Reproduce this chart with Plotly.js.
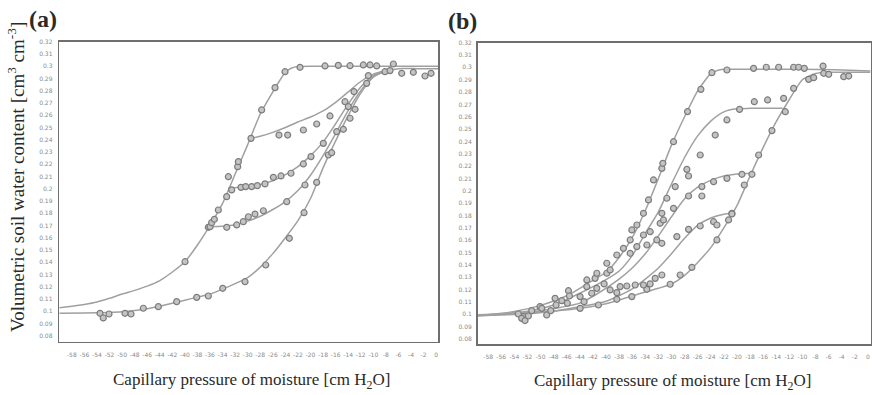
<!DOCTYPE html>
<html><head><meta charset="utf-8">
<script src="https://cdn.plot.ly/plotly-3.0.1.min.js"></script>
<style>html,body{margin:0;padding:0;background:#fff}#chart{width:872px;height:395px}</style>
</head><body><div id="chart"></div>
<script>
// ---------- tick labels ----------
const xTickVals = [-58,-56,-54,-52,-50,-48,-46,-44,-42,-40,-38,-36,-34,-32,-30,-28,-26,-24,-22,-20,-18,-16,-14,-12,-10,-8,-6,-4,-2,0];
const xTickText = xTickVals.map(v => String(v));
const yTickVals = [0.32,0.31,0.30,0.29,0.28,0.27,0.26,0.25,0.24,0.23,0.22,0.21,0.20,0.19,0.18,0.17,0.16,0.15,0.14,0.13,0.12,0.11,0.10,0.09,0.08];
const yTickText = ["0.32","0.31","0.3","0.29","0.28","0.27","0.26","0.25","0.24","0.23","0.22","0.21","0.2","0.19","0.18","0.17","0.16","0.15","0.14","0.13","0.12","0.11","0.1","0.09","0.08"];

// ---------- panel (a) fitted curves ----------
const aMainUpperX = [-60,-58,-56,-54,-52,-50,-48,-46,-44,-42,-40,-38,-36,-34,-32,-30,-28,-26,-25,-24,-23,-22,-20,-16,-10,-4,0.3];
const aMainUpperY = [0.1028,0.1040,0.1055,0.1075,0.1105,0.1140,0.1170,0.1205,0.1250,0.1320,0.1404,0.1540,0.1700,0.1880,0.2120,0.2360,0.2610,0.2790,0.2875,0.2950,0.2985,0.2997,0.3,0.3,0.3,0.3,0.3];
const aMainLowerX = [-60,-56,-52,-50,-48,-46,-44,-42,-40,-38,-36,-34,-32,-30,-28,-26,-24,-22,-20,-18,-16,-14,-12,-10,-8,-6,-3,0.3];
const aMainLowerY = [0.0983,0.0985,0.0990,0.0995,0.1005,0.1020,0.1040,0.1065,0.1090,0.1115,0.1140,0.1180,0.1225,0.1275,0.1360,0.1470,0.1600,0.1740,0.1920,0.2170,0.2390,0.2597,0.2780,0.2910,0.2960,0.2980,0.2980,0.2980];
const aScan1X = [-29.4,-28,-26,-24,-22,-20,-18,-16,-14,-12,-10,-8];
const aScan1Y = [0.2411,0.2428,0.2460,0.2500,0.2545,0.2585,0.2635,0.2705,0.2790,0.2875,0.2935,0.2965];
const aScan2X = [-33.1,-32,-30,-28,-26,-24,-22,-20,-18,-16,-14,-12,-10,-8];
const aScan2Y = [0.2005,0.2008,0.2015,0.2035,0.2065,0.2115,0.2180,0.2270,0.2380,0.2530,0.2690,0.2830,0.2925,0.2965];
const aScan3X = [-36.3,-34,-32,-30,-28,-26,-24,-22,-20,-18,-16,-14,-12,-10,-8];
const aScan3Y = [0.1690,0.1693,0.1705,0.1735,0.1775,0.1830,0.1895,0.1985,0.2110,0.2270,0.2450,0.2640,0.2800,0.2915,0.2960];

// ---------- panel (a) measured points ----------
const aPtsUpperX = [-39.98,-36.27,-36.0,-35.74,-35.31,-34.68,-33.35,-33.08,-31.6,-31.49,-29.48,-27.78,-25.65,-24.06,-21.67,-17.69,-15.57,-13.71,-11.59,-10.52,-9.46,-6.81];
const aPtsUpperY = [0.1404,0.1685,0.169,0.1723,0.175,0.1826,0.1935,0.2098,0.218,0.2221,0.2411,0.2643,0.2825,0.2955,0.2991,0.3002,0.3007,0.3004,0.301,0.301,0.3002,0.3018];
const aPtsLowerX = [-53.52,-53.0,-52.09,-49.54,-48.58,-46.62,-44.23,-41.31,-38.12,-36.27,-33.98,-30.43,-27.13,-23.37,-21.03,-19.02,-17.16,-16.63,-15.83,-14.77,-13.71,-12.91,-11.06,-8.14,-7.34,-5.48,-3.63,-1.77,-0.81];
const aPtsLowerY = [0.0983,0.0945,0.0977,0.0983,0.0977,0.1024,0.1037,0.1078,0.1113,0.1124,0.1187,0.1241,0.1377,0.1595,0.1804,0.2052,0.2275,0.2294,0.2466,0.2485,0.2575,0.2648,0.286,0.2955,0.2964,0.2942,0.295,0.292,0.2942];
const aPtsScan1X = [-25.02,-23.64,-21.14,-19.02,-16.9,-14.51,-13.07,-10.79];
const aPtsScan1Y = [0.2438,0.2438,0.2479,0.2528,0.2594,0.271,0.2792,0.2923];
const aPtsScan2X = [-32.55,-31.07,-30.32,-29.37,-28.47,-27.25,-25.92,-24.7,-23.11,-21.14,-19.92,-17.96,-13.98];
const aPtsScan2Y = [0.199,0.2011,0.2017,0.2017,0.2025,0.2039,0.2093,0.2104,0.2126,0.2202,0.2262,0.237,0.267];
const aPtsScan3X = [-33.34,-31.75,-30.7,-29.9,-28.84,-27.51,-23.79,-20.88];
const aPtsScan3Y = [0.1685,0.1704,0.1731,0.1771,0.1793,0.182,0.1894,0.203];

// ---------- panel (b) fitted curves ----------
const bMainUpperX = [-59.6,-58.5,-54,-50,-46,-44,-42,-40,-38,-36,-34,-32,-30,-28,-26,-24,-23,-22,-20,-15,-10,-5,0.4];
const bMainUpperY = [0.0990,0.0994,0.1022,0.1072,0.1150,0.1210,0.1275,0.1340,0.1460,0.1620,0.1840,0.2100,0.2370,0.2600,0.2810,0.2950,0.2975,0.2984,0.2985,0.2985,0.2985,0.2980,0.2970];
const bMainLowerX = [-59.6,-56,-52,-48,-44,-40,-36,-34,-32,-30,-28,-26,-24,-22,-20,-18,-16,-14,-12,-10,-8,-6,-3,0.4];
const bMainLowerY = [0.0986,0.0995,0.1010,0.1025,0.1048,0.1085,0.1148,0.1180,0.1210,0.1245,0.1315,0.1420,0.1540,0.1700,0.1880,0.2120,0.2350,0.2560,0.2740,0.2900,0.2950,0.2960,0.2960,0.2960];
const bScanCX = [-59.6,-56,-52,-48,-44,-40,-38,-36,-34,-32,-30,-28,-26,-24,-22,-20,-18,-13.0];
const bScanCY = [0.0995,0.1005,0.1025,0.1075,0.1170,0.1280,0.1350,0.1475,0.1655,0.1830,0.2055,0.2270,0.2445,0.2565,0.2640,0.2665,0.2668,0.2668];
const bScanDX = [-59.6,-56,-52,-48,-44,-41.4,-38,-36,-34,-32,-30,-28,-26,-24,-22,-20,-17.8];
const bScanDY = [0.0995,0.1000,0.1015,0.1045,0.1090,0.1164,0.1285,0.1375,0.1490,0.1635,0.1790,0.1935,0.2030,0.2085,0.2120,0.2137,0.2142];
const bScanEX = [-59.6,-56,-52,-48,-44,-40,-38,-36,-34,-32,-30,-28,-26,-24,-22,-20.6];
const bScanEY = [0.0992,0.0995,0.1005,0.1025,0.1060,0.1105,0.1150,0.1205,0.1285,0.1375,0.1490,0.1615,0.1720,0.1780,0.1810,0.1818];

// ---------- panel (b) measured points ----------
const bPtsUpperX = [-52.62,-50.08,-47.78,-45.74,-42.94,-41.67,-39.88,-36.06,-35.29,-34.28,-33.51,-32.75,-31.47,-31.32,-29.69,-27.55,-25.51,-23.83,-21.53,-17.46,-15.52,-13.63,-11.34,-10.58,-9.71,-6.85];
const bPtsUpperY = [0.0981,0.1062,0.1129,0.1191,0.1224,0.1291,0.1332,0.1683,0.1723,0.1818,0.1926,0.2088,0.2182,0.2223,0.2398,0.2642,0.2822,0.2957,0.2979,0.2992,0.3001,0.3001,0.3001,0.3001,0.2992,0.3011];
const bPtsLowerX = [-43.96,-41.16,-38.35,-36.06,-33.77,-30.2,-28.67,-26.89,-23.06,-20.77,-16.69,-14.65,-12.61,-9.05,-8.28,-6.75,-5.99,-3.69,-2.93];
const bPtsLowerY = [0.1048,0.1075,0.1121,0.1143,0.1202,0.1243,0.1318,0.138,0.1602,0.1818,0.229,0.2488,0.2641,0.2903,0.2917,0.2952,0.2944,0.2925,0.293];
const bPtsCX = [-30.71,-29.43,-27.65,-27.39,-25.61,-23.32,-21.53,-19.6,-17.35,-15.32,-12.87,-11.34];
const bPtsCY = [0.194,0.2034,0.2174,0.212,0.229,0.2452,0.2574,0.266,0.2722,0.2736,0.2749,0.283];
const bPtsDX = [-31.47,-29.69,-27.39,-25.36,-25.36,-23.57,-21.53,-19.24,-17.71,-18.88];
const bPtsDY = [0.1818,0.1858,0.1958,0.2034,0.1958,0.2074,0.2101,0.2134,0.2134,0.2047];
const bPtsEX = [-31.47,-29.18,-27.39,-25.61,-23.57,-23.06,-21.28,-20.77];
const bPtsEY = [0.1575,0.1629,0.1688,0.1715,0.175,0.1723,0.1764,0.1813];
const bPtsFX = [-37.84,-36.82,-35.55,-34.28,-33.26,-32.49,-31.47];
const bPtsFY = [0.1224,0.1229,0.1237,0.1237,0.1246,0.1291,0.1318];
const bPtsClusterX = [-53.39,-52.88,-52.37,-51.86,-51.35,-49.82,-49.06,-48.44,-47.63,-46.76,-45.9,-45.59,-43.96,-43.35,-42.18,-41.41,-40.29,-39.37,-38.35,
  -34.28,-33.25,-31.73,-31.22,-36.31,-37.34,-38.35,-36.31,-35.29,-33.76,-32.24,-39.88,-41.4,-42.93,-39.37];
const bPtsClusterY = [0.1002,0.0967,0.0949,0.0986,0.1029,0.1048,0.0994,0.1029,0.1075,0.111,0.1089,0.1148,0.1143,0.1102,0.117,0.121,0.1246,0.1197,0.1175,
  0.1642,0.1669,0.1737,0.1764,0.1602,0.1534,0.148,0.1494,0.1548,0.1561,0.1602,0.1413,0.1332,0.1278,0.1359];

// ---------- build ----------
const lineStyle = {color:'#a0a0a0', width:1.5, shape:'spline', smoothing:0.6};
const markerStyle = {symbol:'circle', size:6, color:'#c4c4c4', line:{color:'#7c7c7c', width:1.2}};
function curve(x, y, xa, ya){ return {x, y, xaxis:xa, yaxis:ya, type:'scatter', mode:'lines', line:lineStyle, hoverinfo:'skip', showlegend:false}; }
function pts(x, y, xa, ya){ return {x, y, xaxis:xa, yaxis:ya, type:'scatter', mode:'markers', marker:markerStyle, showlegend:false}; }

const data = [
  curve(aMainUpperX,aMainUpperY,'x','y'), curve(aMainLowerX,aMainLowerY,'x','y'),
  curve(aScan1X,aScan1Y,'x','y'), curve(aScan2X,aScan2Y,'x','y'), curve(aScan3X,aScan3Y,'x','y'),
  pts(aPtsUpperX,aPtsUpperY,'x','y'), pts(aPtsLowerX,aPtsLowerY,'x','y'),
  pts(aPtsScan1X,aPtsScan1Y,'x','y'), pts(aPtsScan2X,aPtsScan2Y,'x','y'), pts(aPtsScan3X,aPtsScan3Y,'x','y'),
  curve(bMainUpperX,bMainUpperY,'x2','y2'), curve(bMainLowerX,bMainLowerY,'x2','y2'),
  curve(bScanCX,bScanCY,'x2','y2'), curve(bScanDX,bScanDY,'x2','y2'), curve(bScanEX,bScanEY,'x2','y2'),
  pts(bPtsUpperX,bPtsUpperY,'x2','y2'), pts(bPtsLowerX,bPtsLowerY,'x2','y2'),
  pts(bPtsCX,bPtsCY,'x2','y2'), pts(bPtsDX,bPtsDY,'x2','y2'), pts(bPtsEX,bPtsEY,'x2','y2'),
  pts(bPtsFX,bPtsFY,'x2','y2'), pts(bPtsClusterX,bPtsClusterY,'x2','y2')
];

const tickFont = {family:'DejaVu Sans, sans-serif', size:6, color:'#8a8a8a'};
function xAxis(domain, range){
  return {domain, range, showline:true, mirror:true, linecolor:'#6f6f6f', linewidth:1.6,
    showgrid:false, zeroline:false, tickmode:'array', tickvals:xTickVals, ticktext:xTickText,
    tickfont:tickFont, ticks:'outside', ticklen:6, tickcolor:'rgba(0,0,0,0)', tickangle:0, fixedrange:true};
}
function yAxis(domain, range, anchor, tl){
  return {domain, range, anchor, showline:true, mirror:true, linecolor:'#6f6f6f', linewidth:1.6,
    showgrid:false, zeroline:false, tickmode:'array', tickvals:yTickVals, ticktext:yTickText,
    tickfont:tickFont, ticks:'outside', ticklen:tl, tickcolor:'rgba(0,0,0,0)', fixedrange:true};
}
const W = 872, H = 395;
const serif = 'Liberation Serif, Times New Roman, serif';
function ann(text, cx, cy, size, extra){
  return Object.assign({text, x:cx/W, y:(H-cy)/H, xref:'paper', yref:'paper', xanchor:'center', yanchor:'middle',
    showarrow:false, font:{family:serif, size, color:'#2a2a2a'}}, extra||{});
}
const layout = {
  width:W, height:H, margin:{l:0,r:0,t:0,b:0}, paper_bgcolor:'#fff', plot_bgcolor:'#fff', showlegend:false,
  xaxis: Object.assign(xAxis([59.3/W, 438/W], [-60, 0.3]), {anchor:'y'}),
  yaxis: yAxis([(H-341.7)/H, (H-41.7)/H], [0.0751, 0.32], 'x', 4),
  xaxis2: Object.assign(xAxis([477.7/W, 870.5/W], [-59.6, 0.4]), {anchor:'y2'}),
  yaxis2: yAxis([(H-344)/H, (H-42.7)/H], [0.0759, 0.32], 'x2', 3),
  annotations: [
    ann('<b>(a)</b>', 43, 19, 24),
    ann('<b>(b)</b>', 462, 21, 24),
    ann('Volumetric soil water content [cm<sup>3</sup> cm<sup>-3</sup>]', 16, 177, 19, {textangle:-90}),
    ann('Capillary pressure of moisture [cm H<sub>2</sub>O]', 251, 381, 17),
    ann('Capillary pressure of moisture [cm H<sub>2</sub>O]', 672, 382, 17)
  ]
};
Plotly.newPlot('chart', data, layout, {displayModeBar:false, staticPlot:true});
</script></body></html>
